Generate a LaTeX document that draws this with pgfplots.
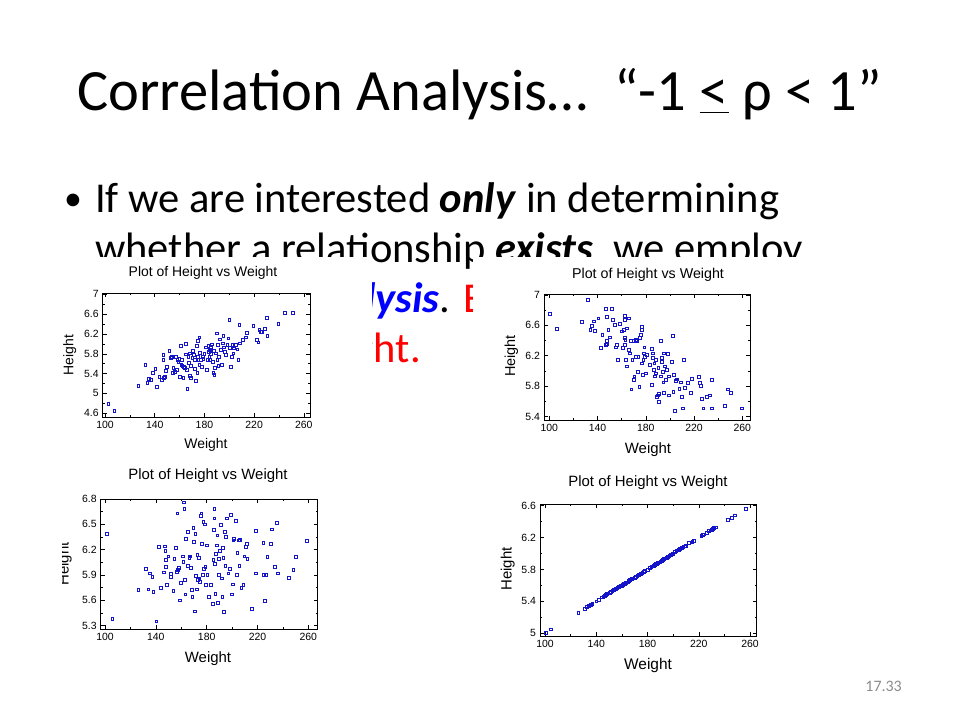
\documentclass[border=0pt]{standalone}
\usepackage{fontspec}
\setmainfont{Carlito}
\newfontfamily\arial{Liberation Sans}
\usepackage{pgfplots}
\pgfplotsset{compat=1.18}
\definecolor{dotblue}{RGB}{20,20,200}
\definecolor{slideblue}{RGB}{0,0,255}
\definecolor{slidered}{RGB}{255,0,0}
\definecolor{pagegray}{RGB}{140,140,140}

\newcommand{\fs}[1]{\fontsize{#1}{#1}\selectfont}

\pgfplotsset{
  hw/.style={
    scale only axis, anchor=south west,
    axis line style={line width=0.8bp, black},
    tick align=inside,
    major tick length=4bp, minor tick length=2bp,
    every tick/.style={black, line width=0.5bp},
    xtick={100,140,180,220,260},
    minor x tick num=1, minor y tick num=1,
    /pgf/number format/assume math mode=true,
    /pgf/number format/fixed,
    /pgf/number format/precision=1,
    tick label style={font=\arial\fs{10.5}},
    yticklabel style={xshift=-0.5bp},
    xticklabel style={yshift=-0.5bp},
  },
  pts/.style={only marks, mark=square, mark size=1.4bp, dotblue,
    mark options={line width=0.7bp}},
}

\begin{document}
\begin{tikzpicture}[x=1bp, y=1bp]
\useasboundingbox (0,0) rectangle (960,720);
\fill[white] (0,0) rectangle (960,720);

% slide text
\node[anchor=base west, inner sep=0pt, font=\fs{58.7}] at (77,609)
  {Correlation Analysis\dots\ \ “-1 \underline{<} ρ < 1”};
\node[anchor=base west, inner sep=0pt, font=\fs{36}] at (64,509) {\textbullet};
\node[anchor=base west, inner sep=0pt, font=\fs{42.7}] at (95,507)
  {If we are interested \textbf{\textit{only}} in determining};
\node[anchor=base west, inner sep=0pt, font=\fs{42.7}] at (95,457)
  {whether a relationship \textbf{\textit{exists}}, we employ};
\node[anchor=base west, inner sep=0pt, font=\fs{42.7}] at (95,407)
  {\textcolor{slideblue}{\textbf{\textit{correlation analysis}}}. \textcolor{slidered}{Example: Height and}};
\node[anchor=base west, inner sep=0pt, font=\fs{42.7}] at (95,357)
  {\textcolor{slidered}{Weight vs.\hspace{9bp} Height.}};

% pictures pasted over the text
\fill[white] (55,40) rectangle (372,463);
\fill[white] (473,40) rectangle (960,463);
\node[anchor=base east, inner sep=0pt, font=\fs{16}, text=pagegray] at (902,28) {17.33};

% ---------- top left: positive correlation
\begin{axis}[hw, at={(102.7bp,303bp)}, width=207.3bp, height=124bp,
  xmin=98.1, xmax=265, ymin=4.525, ymax=7.026,
  ytick={4.6,5,5.4,5.8,6.2,6.6,7}]
\addplot[pts] coordinates {
(102.7,4.79) (107.5,4.65) (126.8,5.16) (132.5,5.57) (134,5.21) (135.4,5.29)
(137,5.27) (138.4,5.41) (140.5,5.49) (142,5.13) (143.7,5.33) (146,5.27)
(147,5.68) (147,5.78) (147.5,5.31) (148.3,5.34) (149,5.46) (149.6,5.54)
(151.8,5.86) (153,5.71) (153.7,5.74) (154.5,5.41) (155,5.51) (156,5.44)
(157,5.74) (157.7,5.47) (158.2,5.68) (159,5.64) (159.8,5.69) (160.4,5.34)
(161,5.96) (161.4,5.58) (161.7,5.68) (162.2,5.55) (163,5.31) (163.6,5.54)
(164.4,5.51) (165.2,6.00) (165.2,5.79) (165.7,5.47) (166.3,5.10) (167,5.74)
(167.6,5.61) (168.4,5.81) (168.4,5.35) (169,5.31) (169.2,5.55) (170.3,5.71)
(171,5.86) (171.6,5.78) (172.2,5.68) (172.4,5.49) (173,5.26) (173.8,5.96)
(174.3,5.41) (174.6,5.74) (174.9,6.06) (175.1,5.68) (175.9,6.13) (175.9,5.57)
(176.5,5.82) (177.3,5.68) (177.8,5.53) (178.6,5.74) (179.1,5.70) (179.9,5.80)
(181,5.93) (181.8,5.47) (182.6,5.68) (183.2,5.96) (183.7,5.84) (184,5.74)
(184.2,5.88) (184.5,5.68) (185,5.92) (185.3,5.80) (185.8,5.99) (186.6,5.64)
(187.2,5.41) (187.7,5.86) (188,5.37) (188.5,5.51) (189.3,5.81) (189.9,6.21)
(190.4,5.68) (191,5.98) (191.2,5.55) (191.7,5.74) (192.6,6.09) (193.1,5.88)
(193.9,5.57) (194.7,6.01) (195.2,6.16) (195.8,5.93) (196.6,5.84) (197.4,5.78)
(198.5,5.98) (199.3,6.11) (200.1,6.48) (200.6,5.92) (201.1,5.53) (201.9,5.74)
(202.5,5.98) (203.3,5.81) (203.8,5.91) (205.4,5.98) (206.5,5.89) (207.3,5.68)
(208.1,6.38) (208.7,6.01) (210.8,6.08) (213.2,6.13) (214,6.23) (219.4,6.36)
(222,6.08) (223.4,6.03) (224.2,6.28) (225.6,6.25) (226.1,6.25) (228.8,6.31)
(230.1,6.52) (230.6,6.16) (239.5,6.40) (245,6.62) (251,6.62)
};
\end{axis}
\node[anchor=base, inner sep=0pt, font=\arial\fs{14}] at (203,443) {Plot of Height vs Weight};
\node[anchor=base, inner sep=0pt, font=\arial\fs{14}] at (206,271) {Weight};
\node[anchor=base, inner sep=0pt, rotate=90, font=\arial\fs{14}] at (73.3,365) {Height};

% ---------- top right: negative correlation
\begin{axis}[hw, at={(544bp,300bp)}, width=206bp, height=126bp,
  xmin=95.6, xmax=266.4, ymin=5.357, ymax=7.01,
  ytick={5.4,5.8,6.2,6.6,7}]
\addplot[pts] coordinates {
(100.6,6.75) (106,6.55) (127,6.64) (132,6.93) (134,6.54) (135,6.59)
(137,6.65) (138,6.53) (140.6,6.69) (142.5,6.30) (144,6.47) (147,6.82)
(147.5,6.71) (146.7,6.34) (147.5,6.36) (148,6.39) (149,6.54) (150,6.44)
(152,6.81) (153,6.67) (154.4,6.61) (155,6.31) (156,6.34) (157,6.15)
(158.6,6.62) (160,6.52) (160.8,6.30) (162,6.54) (162.4,6.72) (162.4,6.67)
(162.7,6.43) (163,6.41) (162.7,6.34) (163.3,6.15) (164,6.06) (164,6.56)
(166,6.69) (166,6.28) (167,6.23) (167.4,6.39) (168,5.76) (168.8,6.15)
(169.6,6.39) (170,5.88) (170.5,5.93) (171.6,6.19) (171.8,6.41) (172.4,6.39)
(173.2,5.99) (173.8,6.19) (174.6,5.79) (175,6.43) (175.7,6.47) (176.5,6.10)
(176.5,6.58) (177,6.54) (177.4,5.95) (178,6.15) (178.5,6.23) (178.8,6.31)
(179.3,6.19) (180,5.97) (180.7,6.21) (183.4,6.08) (184.8,5.82) (185,6.29)
(186,6.23) (186,6.17) (186.8,6.01) (187,6.10) (187.6,5.93) (188,6.15)
(188.4,5.97) (189,5.66) (189.8,5.68) (190.4,6.04) (191,5.60) (191,5.70)
(192.3,5.93) (192.6,6.40) (193,6.17) (193,6.12) (194,5.99) (194.5,5.85)
(195,6.23) (195,5.71) (195.6,6.06) (196.7,5.88) (197.3,6.01) (198,6.22)
(199,5.68) (199.2,5.93) (201.4,6.12) (202.2,6.46) (202.8,5.73) (203.3,5.95)
(204,5.48) (205,5.87) (206,5.89) (207.8,5.77) (208.9,5.85) (209.7,5.66)
(211,5.51) (211.6,6.15) (212.5,5.78) (215,5.84) (217.4,5.71) (218.4,5.90)
(224,5.92) (224.9,5.84) (225.7,5.80) (226.3,5.63) (227.7,5.51) (230.4,5.66)
(233,5.68) (234.6,5.88) (235,5.51) (245.6,5.54) (248,5.76) (250.6,5.71)
(259.4,5.51)
};
\end{axis}
\node[anchor=base, inner sep=0pt, font=\arial\fs{14.3}] at (648,441.7) {Plot of Height vs Weight};
\node[anchor=base, inner sep=0pt, font=\arial\fs{15}] at (648,266.7) {Weight};
\node[anchor=base, inner sep=0pt, rotate=90, font=\arial\fs{14.5}] at (515,364) {Height};

% ---------- bottom left: no correlation
\begin{axis}[hw, at={(100.7bp,91bp)}, width=217bp, height=130bp,
  xmin=96.6, xmax=267.4, ymin=5.26, ymax=6.8,
  ytick={5.3,5.6,5.9,6.2,6.5,6.8}]
\addplot[pts] coordinates {
(101.3,6.39) (105.8,5.38) (126.2,5.72) (132.3,5.97) (134.1,5.73) (135.4,5.92)
(137.2,5.88) (138,5.70) (140.4,5.35) (142.5,6.23) (143.8,5.75) (146.4,5.93)
(147.2,6.24) (147.5,6.19) (147.7,6.08) (148,6.00) (148.8,5.78) (149.8,6.12)
(151.7,5.91) (151.9,5.88) (153.8,5.71) (154.6,6.09) (155.9,6.22) (156.4,5.94)
(157,6.63) (157.4,5.96) (158.2,5.98) (159,5.60) (159.5,5.81) (161.1,6.12)
(161.6,6.06) (162.2,6.76) (162.4,6.68) (163,5.84) (163.2,5.67) (163.7,6.33)
(165,6.01) (165.5,6.41) (166.3,6.10) (166.9,6.12) (167.7,5.98) (168.5,5.72)
(168.7,5.64) (169.5,6.46) (170,6.29) (170.6,5.47) (171.1,6.39) (171.6,5.89)
(172.1,5.73) (172.7,6.14) (173.2,5.84) (173.7,6.10) (174.2,5.86) (174.8,5.82)
(175.3,6.60) (175.8,6.63) (176.3,6.27) (176.9,5.90) (177.4,6.53) (177.9,5.97)
(178.4,6.50) (178.9,6.00) (179.5,5.78) (180,6.25) (180.5,5.90) (181.8,5.64)
(183.1,5.78) (184.7,5.56) (185.2,6.08) (185.8,6.43) (186,6.68) (186,6.57)
(186.3,6.03) (186.8,5.68) (187.3,6.15) (187.9,6.25) (188.4,6.37) (188.9,5.57)
(189.4,5.90) (189.9,6.09) (190.5,6.19) (191.3,6.49) (191.8,5.86) (192.3,5.64)
(192.6,6.22) (193.1,6.10) (193.6,5.46) (194.2,6.41) (194.7,6.01) (195.2,6.35)
(195.7,6.57) (197,5.92) (198.4,5.97) (198.9,6.61) (199.7,5.67) (200.5,5.79)
(201,6.31) (201.5,6.33) (203.1,6.54) (203.6,5.90) (204.1,6.16) (205.2,6.31)
(205.7,6.01) (206.2,6.32) (207.3,5.75) (208.9,5.78) (209.6,6.12) (210.7,6.23)
(211.5,6.27) (212,6.09) (215.4,5.50) (218.6,5.92) (218.6,6.42) (224.6,6.28)
(225.1,5.90) (225.9,5.59) (226.7,5.90) (227.7,6.11) (230.6,6.27) (231.1,6.44)
(233.8,6.00) (235.1,6.52) (235.9,5.92) (245,5.87) (248.2,5.96) (250.3,6.11)
(258.7,6.30)
};
\end{axis}
\node[anchor=base, inner sep=0pt, font=\arial\fs{15}] at (208,240.7) {Plot of Height vs Weight};
\node[anchor=base, inner sep=0pt, font=\arial\fs{15}] at (208,57.3) {Weight};
\node[anchor=base, inner sep=0pt, rotate=90, font=\arial\fs{15}] at (68.5,156) {Height};
\fill[white] (30,40) rectangle (62,260);

% ---------- bottom right: perfect correlation
\begin{axis}[hw, at={(540bp,84bp)}, width=216.7bp, height=131.7bp,
  xmin=96.1, xmax=265.2, ymin=4.966, ymax=6.618,
  ytick={5,5.4,5.8,6.2,6.6}]
\addplot[pts] coordinates {
(100.8,5.01) (104.7,5.05) (126,5.26) (131,5.31) (132.5,5.33) (134,5.34)
(135.5,5.36) (137,5.37) (140,5.40) (142,5.42) (144.5,5.45) (145.5,5.46)
(146.5,5.47) (147.5,5.48) (148.5,5.49) (149.5,5.50) (150.5,5.51) (151.5,5.52)
(152.5,5.53) (153.5,5.54) (154.5,5.55) (155.5,5.56) (156.5,5.57) (157.5,5.58)
(158,5.58) (159,5.59) (160,5.60) (160.5,5.61) (161.5,5.62) (162,5.62)
(163,5.63) (164,5.64) (165,5.65) (165.5,5.66) (166.5,5.67) (167.5,5.68)
(168,5.68) (169,5.69) (170,5.70) (171,5.71) (172,5.72) (173,5.73)
(174,5.74) (175,5.75) (176,5.76) (177,5.77) (178,5.78) (180,5.80)
(182,5.82) (183,5.83) (184,5.84) (185,5.85) (185.5,5.86) (186.5,5.87)
(187,5.87) (188,5.88) (189,5.89) (190,5.90) (191,5.91) (192,5.92)
(193,5.93) (194,5.94) (195,5.95) (196,5.96) (197,5.97) (198,5.98)
(199,5.99) (200,6.00) (201.5,6.02) (202.5,6.03) (203.5,6.04) (204.5,6.05)
(205.5,6.06) (207,6.07) (208,6.08) (209,6.09) (210,6.10) (212.5,6.13)
(215,6.15) (216,6.16) (222,6.22) (223,6.23) (224,6.24) (226,6.26)
(228,6.28) (229,6.29) (230,6.30) (231,6.31) (232,6.32) (233,6.33)
(242.5,6.42) (245.5,6.45) (248,6.48) (256.5,6.56)
};
\end{axis}
\node[anchor=base, inner sep=0pt, font=\arial\fs{15}] at (648,233.3) {Plot of Height vs Weight};
\node[anchor=base, inner sep=0pt, font=\arial\fs{15.5}] at (648,50) {Weight};
\node[anchor=base, inner sep=0pt, rotate=90, font=\arial\fs{15}] at (511.7,151) {Height};
\end{tikzpicture}
\end{document}
